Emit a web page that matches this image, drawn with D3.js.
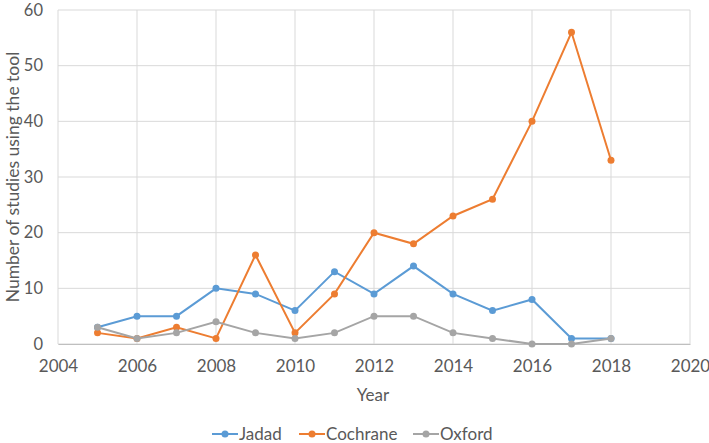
<!DOCTYPE html>
<html>
<head>
<meta charset="utf-8">
<script src="https://cdn.jsdelivr.net/npm/d3@7"></script>
<style>
  body { margin: 0; background: #fff; }
  text { font-family: Lato, "Open Sans", sans-serif; fill: #595959; }
</style>
</head>
<body>
<div class="chart"></div>
<script>
const years = [2005, 2006, 2007, 2008, 2009, 2010, 2011, 2012, 2013, 2014, 2015, 2016, 2017, 2018];
const jadad = [3, 5, 5, 10, 9, 6, 13, 9, 14, 9, 6, 8, 1, 1];
const cochrane = [2, 1, 3, 1, 16, 2, 9, 20, 18, 23, 26, 40, 56, 33];
const oxford = [3, 1, 2, 4, 2, 1, 2, 5, 5, 2, 1, 0, 0, 1];
const xTicks = [2004, 2006, 2008, 2010, 2012, 2014, 2016, 2018, 2020];
const yTicks = [0, 10, 20, 30, 40, 50, 60];

const series = [
  {name: 'Jadad', values: jadad, color: '#5b9bd5'},
  {name: 'Cochrane', values: cochrane, color: '#ed7d31'},
  {name: 'Oxford', values: oxford, color: '#a5a5a5'}
];

const margin = ({top: 10, right: 19, bottom: 99, left: 58});
const W = 709, H = 443;
const width = W - margin.left - margin.right;
const height = H - margin.top - margin.bottom;

const svg = d3.select('.chart').append('svg')
    .attr('width', W)
    .attr('height', H);

const g = svg.append('g')
    .attr('transform', 'translate(' + margin.left + ',' + margin.top + ')');

const x = d3.scaleLinear().domain([2004, 2020]).range([0, width]);
const y = d3.scaleLinear().domain([0, 60]).range([height, 0]);

// grid
g.selectAll('.hgrid').data(yTicks).enter().append('line')
    .attr('x1', 0).attr('x2', width)
    .attr('y1', d => y(d)).attr('y2', d => y(d))
    .attr('stroke', '#d9d9d9').attr('stroke-width', 1);
g.selectAll('.vgrid').data(xTicks).enter().append('line')
    .attr('y1', 0).attr('y2', height)
    .attr('x1', d => x(d)).attr('x2', d => x(d))
    .attr('stroke', '#d9d9d9').attr('stroke-width', 1);

const xAxis = g.append('g')
    .attr('transform', 'translate(0,' + height + ')')
    .call(d3.axisBottom(x).tickValues(xTicks).tickFormat(d3.format('d')).tickSize(0).tickPadding(16));
xAxis.select('.domain').attr('stroke', '#bfbfbf');
xAxis.selectAll('text').style('font-size', '17px').attr('fill', '#595959');

const yAxis = g.append('g')
    .call(d3.axisLeft(y).tickValues(yTicks).tickSize(0).tickPadding(15));
yAxis.select('.domain').remove();
yAxis.selectAll('text').style('font-size', '16.5px').attr('fill', '#595959');

const line = d3.line()
    .x((d, i) => x(years[i]))
    .y(d => y(d));

series.forEach(s => {
  g.append('path')
      .datum(s.values)
      .attr('fill', 'none')
      .attr('stroke', s.color)
      .attr('stroke-width', 2)
      .attr('d', line);
  g.selectAll(null).data(s.values).enter().append('circle')
      .attr('cx', (d, i) => x(years[i]))
      .attr('cy', d => y(d))
      .attr('r', 3.5)
      .attr('fill', s.color);
});

// axis titles
svg.append('text')
    .attr('x', 373)
    .attr('y', 401)
    .attr('text-anchor', 'middle')
    .style('font-size', '17px')
    .text('Year');

svg.append('text')
    .attr('transform', 'translate(13,' + (margin.top + height / 2) + ') rotate(-90)')
    .attr('text-anchor', 'middle')
    .attr('dy', '0.35em')
    .style('font-size', '17.5px')
    .text('Number of studies using the tool');

// legend
const legendX = [212, 299, 413];
const legend = svg.selectAll('.legend').data(series).enter().append('g')
    .attr('transform', (d, i) => 'translate(' + legendX[i] + ',434)');
legend.append('line')
    .attr('x1', 0).attr('x2', 26)
    .attr('stroke', d => d.color).attr('stroke-width', 2);
legend.append('circle')
    .attr('cx', 13).attr('r', 3.5)
    .attr('fill', d => d.color);
legend.append('text')
    .attr('x', 27).attr('dy', '0.35em')
    .style('font-size', '17px')
    .text(d => d.name);
</script>
</body>
</html>
